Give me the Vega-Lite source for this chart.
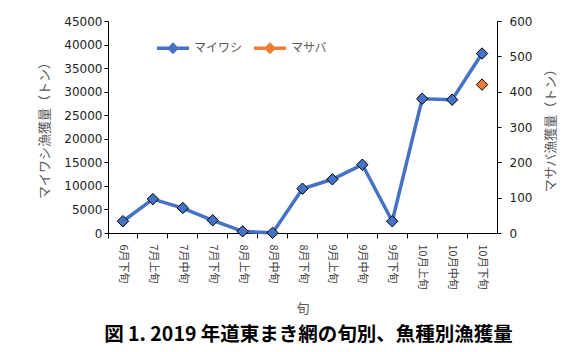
{
  "$schema": "https://vega.github.io/schema/vega-lite/v6.json",
  "width": 389,
  "height": 212,
  "autosize": {"type": "none"},
  "padding": {"left": 108, "top": 21, "right": 87, "bottom": 119},
  "background": "white",
  "config": {
    "view": {"stroke": null},
    "font": "Noto Sans CJK JP",
    "axis": {"domainColor": "#000", "tickColor": "#000", "labelColor": "#222", "titleColor": "#595959", "grid": false, "labelFont": "DejaVu Sans", "labelFontSize": 12, "titleFont": "Noto Sans CJK JP", "titleFontWeight": "normal", "titleFontSize": 13}
  },
  "title": {"text": "図 1.  2019 年道東まき網の旬別、魚種別漁獲量", "orient": "bottom", "anchor": "middle", "fontSize": 19.5, "fontWeight": "bold", "color": "#000", "font": "Noto Sans CJK JP", "offset": 11, "dx": 6},
  "data": {"values": [
    {"period": "6月下旬", "species": "マイワシ", "value": 2500},
    {"period": "7月上旬", "species": "マイワシ", "value": 7200},
    {"period": "7月中旬", "species": "マイワシ", "value": 5300},
    {"period": "7月下旬", "species": "マイワシ", "value": 2700},
    {"period": "8月上旬", "species": "マイワシ", "value": 350},
    {"period": "8月中旬", "species": "マイワシ", "value": 30},
    {"period": "8月下旬", "species": "マイワシ", "value": 9400},
    {"period": "9月上旬", "species": "マイワシ", "value": 11400},
    {"period": "9月中旬", "species": "マイワシ", "value": 14500},
    {"period": "9月下旬", "species": "マイワシ", "value": 2500},
    {"period": "10月上旬", "species": "マイワシ", "value": 28500},
    {"period": "10月中旬", "species": "マイワシ", "value": 28300},
    {"period": "10月下旬", "species": "マイワシ", "value": 38100},
    {"period": "10月下旬", "species": "マサバ", "value": 420}
  ]},
  "encoding": {
    "x": {"field": "period", "type": "nominal", "sort": null,
      "scale": {"type": "band", "paddingInner": 0, "paddingOuter": 0,
        "domain": ["6月下旬","7月上旬","7月中旬","7月下旬","8月上旬","8月中旬","8月下旬","9月上旬","9月中旬","9月下旬","10月上旬","10月中旬","10月下旬"]},
      "axis": {"title": "旬", "labelAngle": 90, "labelAlign": "left", "labelBaseline": "middle", "labelFont": "Noto Sans CJK JP", "labelFontSize": 11, "labelColor": "#404040", "bandPosition": 0, "labelOffset": 0, "tickSize": 5, "labelPadding": 6, "titlePadding": 13}
    }
  },
  "layer": [
    {
      "transform": [{"filter": "datum.species === 'マイワシ'"}],
      "encoding": {
        "y": {"field": "value", "type": "quantitative",
          "scale": {"domain": [0, 45000], "nice": false},
          "axis": {"title": "マイワシ漁獲量（トン）", "values": [0,5000,10000,15000,20000,25000,30000,35000,40000,45000], "format": "d", "tickSize": 4, "labelPadding": 2, "titlePadding": 12, "orient": "left"}
        }
      },
      "layer": [
        {"mark": {"type": "line", "strokeWidth": 3.5}, "encoding": {"color": {"field": "species", "type": "nominal", "scale": {"domain": ["マイワシ", "マサバ"], "range": ["#4472C4", "#ED7D31"]}, "legend": {"title": null, "orient": "none", "legendX": 47, "legendY": 9, "direction": "horizontal", "symbolType": "M-1,0H-0.22M0.22,0H1M0,-0.22L0.22,0L0,0.22L-0.22,0Z", "symbolSize": 1024, "symbolStrokeWidth": 3.5, "labelFontSize": 12, "labelColor": "#595959", "labelFont": "Noto Sans CJK JP", "columnPadding": 4, "labelOffset": 3}}}},
        {"mark": {"type": "point", "shape": "diamond", "size": 130, "filled": true, "stroke": "#000", "strokeWidth": 1, "opacity": 1}, "encoding": {"fill": {"field": "species", "type": "nominal", "scale": {"domain": ["マイワシ", "マサバ"], "range": ["#4472C4", "#ED7D31"]}, "legend": null}}}
      ]
    },
    {
      "transform": [{"filter": "datum.species === 'マサバ'"}],
      "encoding": {
        "y": {"field": "value", "type": "quantitative",
          "scale": {"domain": [0, 600], "nice": false},
          "axis": {"title": "マサバ漁獲量（トン）", "titleAngle": 270, "values": [0,100,200,300,400,500,600], "tickSize": 4, "labelPadding": 8, "titlePadding": 26, "orient": "right"}
        }
      },
      "layer": [
        {"mark": {"type": "line", "strokeWidth": 3.5}, "encoding": {"color": {"field": "species", "type": "nominal"}}},
        {"mark": {"type": "point", "shape": "diamond", "size": 130, "filled": true, "stroke": "#000", "strokeWidth": 1, "opacity": 1}, "encoding": {"fill": {"field": "species", "type": "nominal", "legend": null}}}
      ]
    }
  ],
  "resolve": {"scale": {"y": "independent"}}
}
